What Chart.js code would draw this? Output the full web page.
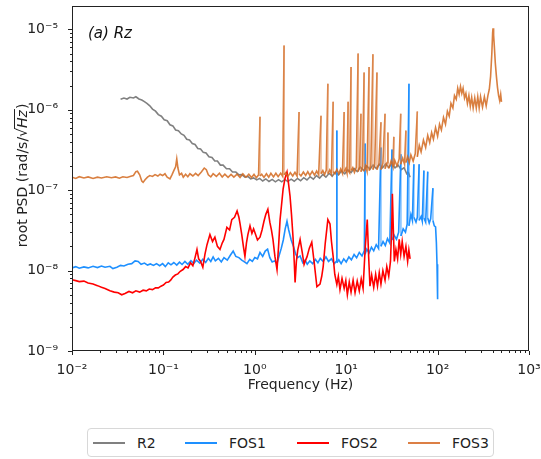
<!DOCTYPE html>
<html>
<head>
<meta charset="utf-8">
<script src="https://cdn.jsdelivr.net/npm/chart.js@4.4.0/dist/chart.umd.min.js"></script>
<style>
  body { margin: 0; background: #fff; font-family: "DejaVu Sans", sans-serif; }
  #wrap { position: relative; width: 541px; height: 459px; }
  #legend { position: absolute; left: 87px; top: 428px; width: 407px; height: 29px;
            border: 1px solid #d8d8d8; border-radius: 4px; box-sizing: border-box; }
  .item { position: absolute; top: 5px; font-size: 14px; color: #222; line-height: 18px; }
  .item span { display: inline-block; width: 32px; height: 2px; vertical-align: middle; margin-right: 12px; margin-top: -2px; }
</style>
</head>
<body>
<div id="wrap">
  <canvas id="psd" width="541" height="410"></canvas>
  <div id="legend"></div>
</div>
<script>
// 頻率 (Hz) 與 root PSD (rad/s/√Hz)
const seriesNames = ['R2', 'FOS1', 'FOS2', 'FOS3'];
const xTickValues = [1e-2, 1e-1, 1e0, 1e1, 1e2, 1e3];
const xTickLabels = ['10⁻²', '10⁻¹', '10⁰', '10¹', '10²', '10³'];
const yTickValues = [1e-9, 1e-8, 1e-7, 1e-6, 1e-5];
const yTickLabels = ['10⁻⁹', '10⁻⁸', '10⁻⁷', '10⁻⁶', '10⁻⁵'];

const r2 = [
  [0.034,1.35e-6],[0.037,1.40e-6],[0.040,1.36e-6],[0.043,1.43e-6],[0.047,1.40e-6],[0.050,1.45e-6],
  [0.054,1.36e-6],[0.058,1.32e-6],[0.062,1.26e-6],[0.066,1.20e-6],[0.071,1.12e-6],[0.076,1.02e-6],
  [0.082,9.6e-7],[0.088,8.7e-7],[0.095,8.3e-7],[0.102,7.5e-7],[0.11,7.3e-7],[0.118,6.5e-7],
  [0.127,6.3e-7],[0.136,5.6e-7],[0.146,5.5e-7],[0.157,5.0e-7],[0.168,4.8e-7],[0.18,4.3e-7],
  [0.193,4.2e-7],[0.207,3.8e-7],[0.222,3.7e-7],[0.238,3.3e-7],[0.255,3.25e-7],[0.273,2.95e-7],
  [0.293,2.9e-7],[0.315,2.6e-7],[0.34,2.55e-7],[0.365,2.3e-7],[0.39,2.3e-7],[0.42,2.05e-7],
  [0.45,2.05e-7],[0.49,1.85e-7],[0.53,1.85e-7],[0.57,1.68e-7],[0.62,1.68e-7],[0.67,1.55e-7],
  [0.72,1.56e-7],[0.78,1.45e-7],[0.84,1.48e-7],[0.9,1.38e-7],[0.97,1.42e-7],[1.05,1.34e-7],
  [1.13,1.40e-7],[1.22,1.30e-7],[1.32,1.38e-7],[1.43,1.28e-7],[1.55,1.36e-7],[1.68,1.27e-7],
  [1.82,1.35e-7],[1.97,1.27e-7],[2.13,1.36e-7],[2.3,1.28e-7],[2.5,1.37e-7],[2.7,1.29e-7],
  [2.93,1.40e-7],[3.17,1.31e-7],[3.43,1.43e-7],[3.72,1.34e-7],[4.03,1.47e-7],[4.37,1.37e-7],
  [4.73,1.52e-7],[5.12,1.41e-7],[5.55,1.57e-7],[6.0,1.45e-7],[6.5,1.62e-7],[7.05,1.50e-7],
  [7.6,1.68e-7],[8.25,1.55e-7],[8.9,1.74e-7],[9.65,1.6e-7],[10.4,1.8e-7],[11.3,1.65e-7],
  [12.2,1.86e-7],[13.2,1.7e-7],[14.3,1.93e-7],[15.5,1.76e-7],[16.8,2.0e-7],[18.2,1.82e-7],
  [19.7,2.06e-7],[21.3,1.86e-7],[23,2.1e-7],[25,1.9e-7],[27,2.12e-7],[29.2,1.92e-7],
  [31.6,2.12e-7],[34.2,1.9e-7],[37,2.05e-7],[40,1.8e-7],[43,1.9e-7],[46,1.6e-7],
  [48,1.65e-7],[50,1.45e-7]
];

const fos1 = [
  [0.010,1.08e-8],[0.011,1.12e-8],[0.012,1.07e-8],[0.0135,1.11e-8],[0.015,1.08e-8],[0.017,1.13e-8],
  [0.019,1.09e-8],[0.021,1.14e-8],[0.023,1.10e-8],[0.026,1.13e-8],[0.028,1.06e-8],[0.031,1.10e-8],
  [0.034,1.16e-8],[0.037,1.14e-8],[0.041,1.20e-8],[0.045,1.22e-8],[0.049,1.32e-8],[0.053,1.30e-8],
  [0.057,1.20e-8],[0.062,1.24e-8],[0.067,1.17e-8],[0.072,1.21e-8],[0.078,1.16e-8],[0.084,1.22e-8],
  [0.091,1.15e-8],[0.098,1.22e-8],[0.105,1.12e-8],[0.113,1.25e-8],[0.121,1.18e-8],[0.13,1.26e-8],
  [0.14,1.17e-8],[0.15,1.27e-8],[0.16,1.19e-8],[0.172,1.30e-8],[0.185,1.20e-8],[0.2,1.33e-8],
  [0.215,1.22e-8],[0.23,1.35e-8],[0.25,1.24e-8],[0.27,1.38e-8],[0.29,1.26e-8],[0.31,1.42e-8],
  [0.33,1.30e-8],[0.35,1.48e-8],[0.37,1.32e-8],[0.4,1.42e-8],[0.43,1.28e-8],[0.46,1.45e-8],
  [0.5,1.35e-8],[0.54,1.55e-8],[0.58,1.75e-8],[0.62,1.50e-8],[0.67,1.45e-8],[0.72,1.35e-8],
  [0.77,1.28e-8],[0.82,1.22e-8],[0.88,1.38e-8],[0.94,1.30e-8],[1.0,1.45e-8],[1.07,1.40e-8],
  [1.14,1.68e-8],[1.22,1.50e-8],[1.3,1.75e-8],[1.38,1.85e-8],[1.46,1.45e-8],[1.55,1.28e-8],
  [1.65,1.32e-8],[1.75,1.22e-8],[1.85,1.55e-8],[1.95,1.90e-8],[2.05,2.4e-8],[2.15,3.3e-8],
  [2.25,4.1e-8],[2.35,3.2e-8],[2.5,2.4e-8],[2.65,2.0e-8],[2.8,1.6e-8],[2.95,1.45e-8],
  [3.13,1.52e-8],[3.35,1.25e-8],[3.55,1.35e-8],[3.75,1.20e-8],[4.0,1.32e-8],[4.3,1.22e-8],
  [4.6,1.38e-8],[4.9,1.25e-8],[5.2,1.42e-8],[5.6,1.30e-8],[6.0,1.48e-8],[6.4,1.30e-8],
  [6.9,1.40e-8],[7.4,1.22e-8],[7.8,1.30e-8],[7.9,5.5e-7],[7.9,1.25e-8],[8.3,1.36e-8],
  [8.8,1.22e-8],[9.4,1.40e-8],[10,1.28e-8],[10.7,1.48e-8],[11.4,1.36e-8],[12.2,1.58e-8],
  [13,1.44e-8],[13.9,1.68e-8],[14.9,1.52e-8],[15.8,1.78e-8],[16.1,3.8e-7],[16.1,1.6e-8],
  [16.8,1.85e-8],[17.8,1.66e-8],[18.9,1.95e-8],[20,1.76e-8],[21.3,2.1e-8],[22.6,1.88e-8],
  [24,3.4e-7],[24,2.0e-8],[25.3,2.3e-8],[26.8,2.05e-8],[28.3,2.5e-8],[30,2.2e-8],
  [31.7,3.2e-7],[31.7,2.4e-8],[33.5,2.75e-8],[35.5,2.45e-8],[37.5,3.0e-8],[39.7,2.8e-7],
  [39.7,2.7e-8],[42,3.3e-8],[44.5,3.0e-8],[46.5,3.8e-8],[48.6,2.1e-6],[48.6,3.6e-8],
  [51,5.0e-8],[53,4.2e-8],[55,2.1e-7],[55,4.6e-8],[58,4.0e-8],[60,4.6e-8],
  [62.8,2.1e-7],[62.8,4.2e-8],[66,4.7e-8],[68,4.1e-8],[70.8,1.75e-7],[70.8,4.5e-8],
  [74,4.0e-8],[78,1.7e-7],[78,4.5e-8],[81,3.9e-8],[84,4.4e-8],[88.9,1.06e-7],
  [88.9,4.2e-8],[92,3.6e-8],[95,3.5e-8],[97,2.2e-8],[98.5,1.2e-8],[100,4.4e-9]
];

const fos2 = [
  [0.010,7.7e-9],[0.011,7.5e-9],[0.012,7.3e-9],[0.0135,7.4e-9],[0.015,7.0e-9],[0.017,6.8e-9],
  [0.019,6.5e-9],[0.021,6.2e-9],[0.023,6.0e-9],[0.026,5.6e-9],[0.029,5.4e-9],[0.032,5.3e-9],
  [0.035,5.0e-9],[0.038,5.2e-9],[0.042,5.5e-9],[0.046,5.3e-9],[0.05,5.6e-9],[0.055,5.4e-9],
  [0.06,5.7e-9],[0.065,5.6e-9],[0.07,5.9e-9],[0.076,5.8e-9],[0.082,6.1e-9],[0.088,6.1e-9],
  [0.094,6.4e-9],[0.1,6.6e-9],[0.107,7.1e-9],[0.114,7.2e-9],[0.12,7.6e-9],[0.127,8.3e-9],
  [0.135,8.8e-9],[0.144,9.1e-9],[0.153,9.8e-9],[0.164,1.03e-8],[0.175,1.12e-8],[0.186,1.08e-8],
  [0.198,1.25e-8],[0.21,1.15e-8],[0.222,1.45e-8],[0.233,1.83e-8],[0.243,1.40e-8],[0.255,1.30e-8],
  [0.27,1.10e-8],[0.285,1.6e-8],[0.30,2.1e-8],[0.323,2.8e-8],[0.345,2.3e-8],[0.366,2.6e-8],
  [0.39,2.0e-8],[0.416,1.83e-8],[0.44,2.2e-8],[0.46,2.44e-8],[0.495,3.45e-8],[0.53,3.2e-8],
  [0.56,4.3e-8],[0.6,4.6e-8],[0.64,5.5e-8],[0.67,4.6e-8],[0.69,3.8e-8],[0.72,2.8e-8],
  [0.75,2.0e-8],[0.78,1.5e-8],[0.81,2.2e-8],[0.84,2.8e-8],[0.886,3.6e-8],[0.93,2.9e-8],
  [0.97,3.3e-8],[1.0,3.0e-8],[1.07,2.4e-8],[1.14,2.6e-8],[1.2,3.2e-8],[1.26,4.1e-8],
  [1.32,5.0e-8],[1.39,5.8e-8],[1.46,4.0e-8],[1.52,3.2e-8],[1.58,2.44e-8],[1.66,1.5e-8],
  [1.75,1.03e-8],[1.82,2.0e-8],[1.89,4.3e-8],[1.96,6.5e-8],[2.04,1.03e-7],[2.14,1.4e-7],
  [2.25,1.68e-7],[2.33,1.25e-7],[2.43,8.4e-8],[2.52,5.0e-8],[2.62,2.6e-8],[2.7,1.3e-8],
  [2.76,7.1e-9],[2.85,1.3e-8],[2.95,1.8e-8],[3.13,2.44e-8],[3.3,1.7e-8],[3.46,1.19e-8],
  [3.6,1.35e-8],[3.73,1.49e-8],[3.95,1.9e-8],[4.2,2.26e-8],[4.45,1.3e-8],[4.78,6.3e-9],
  [5.17,6.8e-9],[5.4,8.5e-9],[5.6,1.12e-8],[5.9,2.2e-8],[6.3,4.3e-8],[6.65,3.8e-8],
  [6.9,2.3e-8],[7.2,1.49e-8],[7.5,9.0e-9],[7.9,6.7e-9],[8.2,8.5e-9],[8.55,5.8e-9],
  [9.0,8.0e-9],[9.5,6.0e-9],[9.9,7.5e-9],[10.3,5.0e-9],[10.8,7.2e-9],[11.3,5.4e-9],
  [11.9,7.6e-9],[12.5,5.3e-9],[13.2,7.4e-9],[13.9,5.6e-9],[14.6,7.9e-9],[15.3,6.0e-9],
  [16.1,1.83e-8],[17.0,4.3e-8],[17.6,1.5e-8],[18.2,6.4e-9],[19,8.8e-9],[20,6.2e-9],
  [21,9.0e-9],[22,6.4e-9],[23,9.4e-9],[24,6.8e-9],[25.2,1.0e-8],[26.6,7.6e-9],
  [27.8,1.12e-8],[29.2,8.5e-9],[30.5,1.3e-8],[31.5,3.5e-8],[32,9.0e-8],[32.8,3.2e-8],
  [33.6,1.3e-8],[35,1.83e-8],[36.5,1.4e-8],[38,2.44e-8],[39.5,1.6e-8],[41,2.3e-8],
  [43,1.5e-8],[45,2.0e-8],[47,1.3e-8],[48.5,1.8e-8],[50,1.4e-8]
];

const fos3 = [
  [0.010,1.45e-7],[0.011,1.40e-7],[0.012,1.47e-7],[0.0135,1.42e-7],[0.015,1.46e-7],[0.017,1.40e-7],
  [0.019,1.45e-7],[0.021,1.42e-7],[0.024,1.47e-7],[0.027,1.43e-7],[0.030,1.46e-7],[0.033,1.41e-7],
  [0.036,1.47e-7],[0.040,1.44e-7],[0.044,1.49e-7],[0.047,1.52e-7],[0.050,1.70e-7],[0.052,1.72e-7],
  [0.055,1.55e-7],[0.058,1.30e-7],[0.060,1.25e-7],[0.063,1.35e-7],[0.067,1.45e-7],[0.071,1.52e-7],
  [0.076,1.48e-7],[0.081,1.56e-7],[0.087,1.50e-7],[0.092,1.58e-7],[0.098,1.52e-7],[0.104,1.60e-7],
  [0.11,1.45e-7],[0.118,1.38e-7],[0.124,1.55e-7],[0.13,1.75e-7],[0.136,1.95e-7],[0.140,2.45e-7],
  [0.144,1.90e-7],[0.150,1.55e-7],[0.158,1.62e-7],[0.165,1.45e-7],[0.175,1.58e-7],[0.185,1.47e-7],
  [0.195,1.60e-7],[0.21,1.50e-7],[0.225,1.62e-7],[0.24,1.52e-7],[0.26,1.68e-7],[0.28,1.88e-7],
  [0.295,1.80e-7],[0.31,1.55e-7],[0.33,1.46e-7],[0.35,1.60e-7],[0.38,1.48e-7],[0.41,1.62e-7],
  [0.44,1.46e-7],[0.47,1.58e-7],[0.51,1.44e-7],[0.55,1.57e-7],[0.59,1.45e-7],[0.64,1.58e-7],
  [0.69,1.44e-7],[0.74,1.60e-7],[0.80,1.45e-7],[0.86,1.58e-7],[0.92,1.44e-7],[0.98,1.57e-7],
  [1.04,1.43e-7],[1.10,1.55e-7],[1.14,8.2e-7],[1.14,1.5e-7],[1.19,1.58e-7],[1.26,1.44e-7],
  [1.34,1.60e-7],[1.42,1.45e-7],[1.50,1.62e-7],[1.60,1.46e-7],[1.70,1.62e-7],[1.80,1.47e-7],
  [1.92,1.63e-7],[2.02,1.48e-7],[2.09,6.3e-6],[2.09,1.55e-7],[2.18,1.65e-7],[2.3,1.48e-7],
  [2.45,1.65e-7],[2.6,1.50e-7],[2.75,1.67e-7],[2.9,1.50e-7],[3.05,9.4e-7],[3.05,1.6e-7],
  [3.2,1.50e-7],[3.4,1.68e-7],[3.6,1.52e-7],[3.8,1.70e-7],[4.0,1.53e-7],[4.25,1.72e-7],
  [4.5,1.54e-7],[4.75,1.73e-7],[5.0,1.55e-7],[5.3,8.4e-7],[5.3,1.6e-7],[5.55,1.75e-7],
  [5.8,1.56e-7],[6.05,1.76e-7],[6.3,2.1e-6],[6.3,1.6e-7],[6.6,1.78e-7],[6.9,1.58e-7],
  [7.2,1.26e-6],[7.2,1.7e-7],[7.55,1.60e-7],[7.9,1.82e-7],[8.3,1.60e-7],[8.7,1.84e-7],
  [9.1,1.62e-7],[9.5,9.4e-7],[9.5,1.7e-7],[9.9,1.86e-7],[10.2,1.63e-7],[10.5,1.26e-6],
  [10.5,1.75e-7],[10.9,1.64e-7],[11.3,3.4e-6],[11.3,1.75e-7],[11.8,1.90e-7],[12.3,1.66e-7],
  [12.9,1.92e-7],[13.5,5.0e-6],[13.5,1.7e-7],[14.0,1.95e-7],[14.5,8.9e-7],[14.5,1.7e-7],
  [15.1,1.96e-7],[15.7,2.9e-6],[15.7,1.72e-7],[16.3,2.0e-7],[16.9,1.72e-7],[17.8,3.4e-6],
  [17.8,1.75e-7],[18.6,2.02e-7],[19.6,4.9e-6],[19.6,1.8e-7],[20.5,2.05e-7],[21.7,2.9e-6],
  [21.7,1.8e-7],[22.8,2.1e-7],[24,7.0e-7],[24,1.8e-7],[25.2,2.15e-7],[26.6,8.9e-7],
  [26.6,1.85e-7],[28,2.2e-7],[28.6,5.2e-7],[28.6,1.9e-7],[29.5,1.9e-7],[31,2.3e-7],
  [32.5,1.95e-7],[33.2,4.6e-7],[33.2,2.0e-7],[34,2.35e-7],[36,2.0e-7],[38,2.45e-7],
  [39.5,8.9e-7],[39.5,2.1e-7],[41.5,2.5e-7],[43.5,2.1e-7],[45,5.5e-7],[45,2.2e-7],
  [47,2.6e-7],[49,2.2e-7],[51,2.75e-7],[54,2.3e-7],[57,2.85e-7],[60,9.5e-7],
  [60,2.6e-7],[63,3.6e-7],[66,3.0e-7],[70,4.2e-7],[74,3.4e-7],[78,4.8e-7],
  [82,3.9e-7],[86,5.2e-7],[90,4.3e-7],[95,6.0e-7],[100,4.7e-7],[105,6.6e-7],
  [110,5.6e-7],[116,8.0e-7],[122,6.6e-7],[128,9.6e-7],[134,8.3e-7],[140,1.2e-6],
  [147,1.05e-6],[153,1.5e-6],[160,1.35e-6],[166,1.85e-6],[172,1.55e-6],[178,1.95e-6],
  [184,1.6e-6],[190,1.85e-6],[197,1.4e-6],[204,1.6e-6],[212,1.2e-6],[220,1.5e-6],
  [228,1.1e-6],[236,1.42e-6],[245,1.05e-6],[255,1.4e-6],[265,1.05e-6],[275,1.45e-6],
  [285,1.05e-6],[295,1.45e-6],[310,1.08e-6],[325,1.45e-6],[340,1.12e-6],[355,1.5e-6],
  [368,1.8e-6],[380,2.6e-6],[392,5.0e-6],[400,9.0e-6],[404,1.03e-5],[410,8.5e-6],
  [418,6.0e-6],[428,3.8e-6],[440,2.6e-6],[452,1.9e-6],[465,1.5e-6],[478,1.3e-6],
  [490,1.55e-6],[500,1.25e-6]
];

const seriesData = [r2, fos1, fos2, fos3];
const seriesColors = ['#808080', '#1e90ff', '#ff0000', 'rgba(210,105,30,0.85)'];
const spikeColors = ['#808080', 'rgba(30,144,255,0.8)', '#ff0000', 'rgba(222,140,85,0.85)'];
const legendColors = ['#808080', '#1e90ff', '#ff0000', '#dc7f45'];

function decadeTicks(lo, hi, maxVal) {
  const ticks = [];
  for (let e = lo; e <= hi; e++) {
    for (let m = 1; m <= 9; m++) {
      const v = m * Math.pow(10, e);
      if (v <= maxVal * 1.0001) ticks.push({ value: v, major: m === 1 });
    }
  }
  return ticks;
}

function labelFor(values, labels) {
  return function (v) {
    const i = values.findIndex(t => Math.abs(t - v) / t < 1e-6);
    return i >= 0 ? labels[i] : '';
  };
}

// 垂直線段（譜線尖峰）畫得較細較淡
const isSpike = c => c.p0.parsed.x === c.p1.parsed.x;

// 外框、刻度線、座標軸標題與註解
const decorations = {
  id: 'decorations',
  afterDraw(chart) {
    const { ctx, chartArea: a, scales: { x, y } } = chart;
    ctx.save();
    ctx.strokeStyle = '#222';
    ctx.lineWidth = 1;
    ctx.strokeRect(Math.round(a.left) + 0.5, Math.round(a.top) + 0.5,
      Math.round(a.right - a.left) - 1, Math.round(a.bottom - a.top) - 1);
    ctx.beginPath();
    x.ticks.forEach(t => {
      const px = Math.round(x.getPixelForValue(t.value)) + 0.5;
      ctx.moveTo(px, a.bottom);
      ctx.lineTo(px, a.bottom + (t.major ? 4 : 2));
    });
    y.ticks.forEach(t => {
      const py = Math.round(y.getPixelForValue(t.value)) + 0.5;
      ctx.moveTo(a.left, py);
      ctx.lineTo(a.left - (t.major ? 4 : 2), py);
    });
    ctx.stroke();

    ctx.fillStyle = '#222';
    ctx.font = '14px "DejaVu Sans"';
    ctx.textAlign = 'center';
    ctx.textBaseline = 'alphabetic';
    ctx.fillText('Frequency (Hz)', (a.left + a.right) / 2, 389);

    // y 軸標題：root PSD (rad/s/√Hz)
    ctx.translate(27, 176);
    ctx.rotate(-Math.PI / 2);
    ctx.textAlign = 'left';
    const normal = '14px "DejaVu Sans"';
    const italic = 'italic 14px "DejaVu Sans"';
    const p1 = 'root PSD (rad/s/', p2 = '√', p3 = 'Hz', p4 = ')';
    ctx.font = normal;
    const w1 = ctx.measureText(p1).width, w2 = ctx.measureText(p2).width, w4 = ctx.measureText(p4).width;
    ctx.font = italic;
    const w3 = ctx.measureText(p3).width;
    let cx = -(w1 + w2 + w3 + w4) / 2;
    ctx.font = normal;
    ctx.fillText(p1, cx, 0); cx += w1;
    ctx.fillText(p2, cx, 0); cx += w2;
    ctx.font = italic;
    ctx.fillText(p3, cx, 0);
    ctx.beginPath();
    ctx.moveTo(cx - 1, -12.5);
    ctx.lineTo(cx + w3 + 1, -12.5);
    ctx.lineWidth = 1;
    ctx.stroke();
    cx += w3 + 1;
    ctx.font = normal;
    ctx.fillText(p4, cx, 0);
    ctx.restore();

    ctx.save();
    ctx.fillStyle = '#111';
    ctx.font = 'italic 15px "DejaVu Sans"';
    ctx.fillText('(a) Rz', 88, 38);
    ctx.restore();
  }
};

new Chart(document.getElementById('psd'), {
  type: 'line',
  data: {
    datasets: seriesNames.map((name, i) => ({
      label: name,
      data: seriesData[i].map(p => ({ x: p[0], y: p[1] })),
      borderColor: seriesColors[i],
      borderWidth: 1.6,
      pointRadius: 0,
      tension: 0,
      fill: false,
      order: seriesNames.length - i,
      segment: {
        borderColor: c => isSpike(c) ? spikeColors[i] : undefined,
        borderWidth: c => isSpike(c) ? 1.1 : undefined
      }
    }))
  },
  options: {
    responsive: false,
    animation: false,
    devicePixelRatio: 1,
    layout: { padding: { top: 6, right: 12, left: 0, bottom: 0 } },
    plugins: { legend: { display: false }, tooltip: { enabled: false } },
    scales: {
      x: {
        type: 'logarithmic',
        min: 1e-2,
        max: 1e3,
        afterBuildTicks: s => { s.ticks = decadeTicks(-2, 3, 1e3); },
        afterFit: s => { s.height = 59; s.paddingLeft = 0; s.paddingRight = 0; },
        grid: { display: false },
        border: { display: false },
        ticks: {
          autoSkip: false, maxRotation: 0, padding: 3,
          color: '#222', font: { family: 'DejaVu Sans', size: 14 },
          callback: labelFor(xTickValues, xTickLabels)
        }
      },
      y: {
        type: 'logarithmic',
        min: 1e-9,
        max: 1.95e-5,
        afterBuildTicks: s => { s.ticks = decadeTicks(-9, -5, 1.95e-5); },
        afterFit: s => { s.width = 72; s.paddingTop = 0; s.paddingBottom = 0; },
        grid: { display: false },
        border: { display: false },
        ticks: {
          autoSkip: false, padding: 6,
          color: '#222', font: { family: 'DejaVu Sans', size: 14 },
          callback: labelFor(yTickValues, yTickLabels)
        }
      }
    }
  },
  plugins: [decorations]
});

// 圖例
const legend = document.getElementById('legend');
const legendLeft = [5, 97, 209, 320];
seriesNames.forEach((name, i) => {
  const d = document.createElement('div');
  d.className = 'item';
  d.style.left = legendLeft[i] + 'px';
  d.innerHTML = '<span style="background:' + legendColors[i] + '"></span>' + name;
  legend.appendChild(d);
});
</script>
</body>
</html>
